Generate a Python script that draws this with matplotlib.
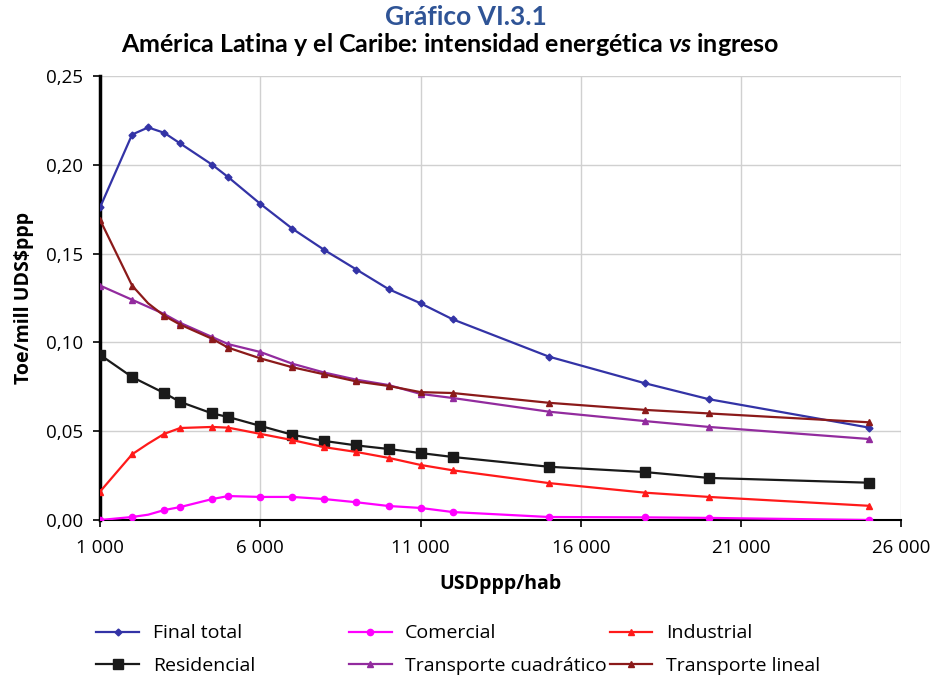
import matplotlib

matplotlib.use("Agg")
import matplotlib.pyplot as plt
from matplotlib.ticker import FuncFormatter

plt.rcParams["font.family"] = ["Open Sans", "DejaVu Sans"]
plt.rcParams["mathtext.fontset"] = "custom"
plt.rcParams["mathtext.rm"] = "Lato:bold"
plt.rcParams["mathtext.it"] = "Lato:bold:italic"

# ingreso per cápita (USD ppp / hab)
INCOME = [1000, 2000, 2500, 3000, 3500, 4500, 5000, 6000, 7000, 8000,
          9000, 10000, 11000, 12000, 15000, 18000, 20000, 25000]

FINAL_TOTAL = [0.176, 0.217, 0.221, 0.218, 0.212, 0.200, 0.193, 0.178, 0.164, 0.152,
               0.141, 0.130, 0.122, 0.113, 0.092, 0.077, 0.068, 0.052]
COMERCIAL = [0.000, 0.0017, 0.003, 0.0056, 0.0073, 0.0118, 0.0135, 0.013, 0.013, 0.0118,
             0.010, 0.0079, 0.0068, 0.0045, 0.0017, 0.0015, 0.0012, 0.000]
INDUSTRIAL = [0.016, 0.037, 0.043, 0.0485, 0.0518, 0.0524, 0.052, 0.0485, 0.045, 0.041,
              0.0383, 0.035, 0.031, 0.028, 0.0208, 0.0154, 0.013, 0.008]
RESIDENCIAL = [0.093, 0.0805, 0.076, 0.0715, 0.0665, 0.060, 0.058, 0.053, 0.048, 0.0445,
               0.042, 0.040, 0.0377, 0.0355, 0.030, 0.027, 0.0237, 0.021]
TRANSP_CUAD = [0.132, 0.124, 0.120, 0.116, 0.111, 0.103, 0.099, 0.0946, 0.088, 0.083,
               0.079, 0.076, 0.071, 0.0687, 0.061, 0.0557, 0.0524, 0.0456]
TRANSP_LIN = [0.169, 0.132, 0.122, 0.115, 0.110, 0.102, 0.097, 0.091, 0.086, 0.082,
              0.078, 0.0755, 0.072, 0.0715, 0.066, 0.062, 0.060, 0.055]

X_TICKS = [1000, 6000, 11000, 16000, 21000, 26000]
Y_TICKS = [0.00, 0.05, 0.10, 0.15, 0.20, 0.25]

# (label, data, color, marker, markersize)
SERIES = [
    ("Final total", FINAL_TOTAL, "#3333A6", "D", 3.5),
    ("Residencial", RESIDENCIAL, "#1A1A1A", "s", 7),
    ("Comercial", COMERCIAL, "#FF00FF", "o", 4.5),
    ("Transporte cuadrático", TRANSP_CUAD, "#922B9E", "^", 4),
    ("Industrial", INDUSTRIAL, "#FF1A1A", "^", 4.5),
    ("Transporte lineal", TRANSP_LIN, "#8B1A1A", "^", 4),
]

fig = plt.figure(figsize=(9.35, 6.78), dpi=100)
ax = fig.add_axes([0.107, 0.233, 0.857, 0.655])

no_2500 = [i for i, v in enumerate(INCOME) if v != 2500]
handles = {}
for label, vals, color, marker, ms in SERIES:
    every = None if label == "Final total" else no_2500
    line, = ax.plot(INCOME, vals, color=color, lw=1.6, marker=marker,
                    markersize=ms, markevery=every, label=label, zorder=3)
    handles[label] = line

ax.set_xlim(1000, 26000)
ax.set_ylim(0, 0.25)
ax.set_xticks(X_TICKS)
ax.set_yticks(Y_TICKS)
ax.xaxis.set_major_formatter(FuncFormatter(lambda v, p: f"{int(v):,}".replace(",", " ")))
ax.yaxis.set_major_formatter(FuncFormatter(lambda v, p: f"{v:.2f}".replace(".", ",")))
ax.tick_params(labelsize=13.5, length=5, width=1.2, colors="black")
ax.tick_params(axis="x", pad=9)
ax.tick_params(axis="y", pad=7)
ax.grid(True, color="#D0D0D0", lw=1)
ax.set_axisbelow(True)
for s in ("top", "right"):
    ax.spines[s].set_visible(False)
ax.spines["left"].set_linewidth(2.5)
ax.spines["bottom"].set_linewidth(1.5)

ax.set_xlabel("USDppp/hab", fontsize=14, fontweight="bold", labelpad=12)
ax.set_ylabel("Toe/mill UDS\\$ppp", fontsize=14, fontweight="bold", labelpad=9)

fig.text(0.498, 0.975, "Gráfico VI.3.1", ha="center", va="center",
         fontsize=19, fontweight="bold", color="#2F5496", family="Lato")
fig.text(0.482, 0.934,
         "América Latina y el Caribe: intensidad energética $\\mathit{vs}$ ingreso",
         ha="center", va="center", fontsize=18, fontweight="bold", family="Lato")

# legend in three columns, placed separately
cols = [("Final total", "Residencial"),
        ("Comercial", "Transporte cuadrático"),
        ("Industrial", "Transporte lineal")]
xs = [0.103, 0.373, 0.652]
for x0, names in zip(xs, cols):
    leg = fig.legend([handles[n] for n in names], names, loc="upper left",
                     bbox_to_anchor=(x0, 0.079), frameon=False, fontsize=14,
                     handlelength=2.2, handletextpad=0.7, labelspacing=0.75,
                     borderaxespad=0, borderpad=0)

fig.savefig("out.png", dpi=100)
